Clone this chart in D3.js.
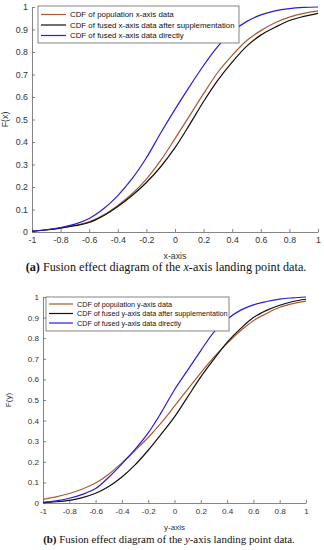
<!DOCTYPE html>
<html>
<head>
<meta charset="utf-8">
<script src="https://cdn.jsdelivr.net/npm/d3@7"></script>
<style>
  body { margin: 0; background: #fff; }
  svg { display: block; }
  .tick text { font-family: "Liberation Sans", Arial, sans-serif; fill: #333; }
</style>
</head>
<body>
<svg id="chart" width="324" height="550"></svg>
<script>
// x grid shared by every curve
const xs = d3.range(-1, 1.0001, 0.1).map(d => +d.toFixed(1));

// panel (a): x-axis landing point
const popX      = [0.004, 0.01, 0.018, 0.03, 0.045, 0.075, 0.118, 0.17, 0.235, 0.318, 0.415, 0.515, 0.615, 0.71, 0.785, 0.85, 0.895, 0.93, 0.955, 0.972, 0.983];
const suppX     = [0.003, 0.009, 0.017, 0.028, 0.042, 0.072, 0.113, 0.162, 0.22, 0.29, 0.375, 0.475, 0.58, 0.675, 0.755, 0.825, 0.875, 0.91, 0.94, 0.958, 0.972];
const directX   = [0.004, 0.01, 0.02, 0.035, 0.06, 0.103, 0.162, 0.237, 0.33, 0.44, 0.545, 0.645, 0.74, 0.825, 0.89, 0.935, 0.965, 0.983, 0.993, 0.998, 1.0];

// panel (b): y-axis landing point
const popY      = [0.018, 0.03, 0.046, 0.068, 0.097, 0.14, 0.195, 0.255, 0.318, 0.39, 0.47, 0.552, 0.632, 0.708, 0.775, 0.835, 0.885, 0.92, 0.95, 0.968, 0.98];
const suppY     = [0.002, 0.006, 0.013, 0.026, 0.047, 0.08, 0.126, 0.185, 0.256, 0.335, 0.418, 0.515, 0.612, 0.698, 0.78, 0.845, 0.9, 0.935, 0.96, 0.978, 0.989];
const directY   = [0.003, 0.01, 0.023, 0.042, 0.07, 0.125, 0.19, 0.26, 0.34, 0.44, 0.55, 0.645, 0.74, 0.83, 0.892, 0.935, 0.962, 0.978, 0.99, 0.996, 1.0];

const xTicks = [-1, -0.8, -0.6, -0.4, -0.2, 0, 0.2, 0.4, 0.6, 0.8, 1];
const yTicks = [0, 0.1, 0.2, 0.3, 0.4, 0.5, 0.6, 0.7, 0.8, 0.9, 1];

const colors = ["#a95a30", "#111111", "#2a1cd4"];

const svg = d3.select("#chart");

// shrink/grow a text node's font so it spans the wanted width
function fitWidth(sel, w) {
  const fs = parseFloat(sel.attr("font-size"));
  const len = sel.node().getComputedTextLength();
  sel.attr("font-size", (fs * w / len).toFixed(2));
}

function drawPanel(cfg) {
  const x = d3.scaleLinear().domain([-1, 1]).range([cfg.left, cfg.right]);
  const y = d3.scaleLinear().domain([0, 1]).range([cfg.bottom, cfg.top]);
  const g = svg.append("g");

  // axes, ticks pointing inward, no box
  const ax = g.append("g").attr("transform", `translate(0,${cfg.bottom})`)
    .call(d3.axisBottom(x).tickValues(xTicks).tickSizeInner(-3).tickSizeOuter(0)
      .tickFormat(d => String(d)));
  const ay = g.append("g").attr("transform", `translate(${cfg.left},0)`)
    .call(d3.axisLeft(y).tickValues(yTicks).tickSizeInner(-3).tickSizeOuter(0)
      .tickFormat(d => String(d)));
  [ax, ay].forEach(a => {
    a.select(".domain").attr("stroke", "#666").attr("stroke-width", 0.8);
    a.selectAll(".tick line").attr("stroke", "#666").attr("stroke-width", 0.8);
    a.selectAll(".tick text").attr("font-size", cfg.tickFont);
  });
  ax.selectAll(".tick text").attr("y", 5);
  ay.selectAll(".tick text").attr("x", -4);

  // curves
  const line = d3.line().x((d, i) => x(xs[i])).y(d => y(d)).curve(d3.curveCatmullRom.alpha(0.5));
  cfg.series.forEach((s, i) => {
    g.append("path").datum(s).attr("d", line)
      .attr("fill", "none").attr("stroke", colors[i]).attr("stroke-width", 1.2);
  });

  // axis titles
  g.append("text").attr("x", (cfg.left + cfg.right) / 2).attr("y", cfg.xTitleY)
    .attr("text-anchor", "middle").attr("font-family", "Liberation Sans, Arial, sans-serif")
    .attr("font-size", cfg.tickFont).attr("fill", "#333").text(cfg.xTitle);
  g.append("text").attr("transform", `translate(${cfg.yTitleX},${(cfg.top + cfg.bottom) / 2}) rotate(-90)`)
    .attr("text-anchor", "middle").attr("font-family", "Liberation Sans, Arial, sans-serif")
    .attr("font-size", cfg.tickFont).attr("fill", "#333").text(cfg.yTitle);

  // legend
  const L = cfg.legend;
  g.append("rect").attr("x", L.x).attr("y", L.y).attr("width", L.w).attr("height", L.h)
    .attr("fill", "#fff").attr("stroke", "#666").attr("stroke-width", 0.8);
  let first;
  cfg.labels.forEach((lab, i) => {
    const ry = L.rows[i];
    g.append("line").attr("x1", L.x + 3).attr("x2", L.x + 3 + L.lineLen)
      .attr("y1", ry).attr("y2", ry).attr("stroke", colors[i]).attr("stroke-width", 1.2);
    const t = g.append("text").attr("class", "leg").attr("x", L.x + L.lineLen + 7).attr("y", ry).attr("dy", "0.35em")
      .attr("font-family", "Liberation Sans, Arial, sans-serif").attr("font-size", 8)
      .attr("fill", "#111").text(lab);
    if (i === 0) first = t;
  });
  fitWidth(first, L.firstWidth);
  g.selectAll("text.leg").attr("font-size", first.attr("font-size"));

  // caption
  const cap = svg.append("text").attr("x", cfg.capX).attr("y", cfg.capY)
    .attr("text-anchor", "middle").attr("font-family", "Liberation Serif, Times New Roman, serif")
    .attr("font-size", 11).attr("fill", "#111");
  cap.append("tspan").attr("font-weight", "bold").text(cfg.capTag);
  cap.append("tspan").text(" Fusion effect diagram of the ");
  cap.append("tspan").attr("font-style", "italic").text(cfg.capVar);
  cap.append("tspan").text("-axis landing point data.");
  fitWidth(cap, cfg.capWidth);
}

drawPanel({
  left: 32, right: 318, top: 7, bottom: 232,
  tickFont: 8.8, xTitle: "x-axis", xTitleY: 259, yTitle: "F(x)", yTitleX: 8,
  series: [popX, suppX, directX],
  labels: ["CDF of population x-axis data", "CDF of fused x-axis data after supplementation", "CDF of fused x-axis data directly"],
  legend: { x: 38, y: 6, w: 201, h: 37, lineLen: 25, rows: [14.5, 25, 35.5], firstWidth: 104 },
  capX: 166, capY: 271, capWidth: 281, capTag: "(a)", capVar: "x"
});

drawPanel({
  left: 43, right: 306, top: 297, bottom: 503,
  tickFont: 8.1, xTitle: "y-axis", xTitleY: 530, yTitle: "F(y)", yTitleX: 11,
  series: [popY, suppY, directY],
  labels: ["CDF of population y-axis data", "CDF of fused y-axis data after supplementation", "CDF of fused y-axis data directly"],
  legend: { x: 46, y: 297, w: 183, h: 34, lineLen: 24, rows: [304, 313.5, 323], firstWidth: 95 },
  capX: 169, capY: 543, capWidth: 252, capTag: "(b)", capVar: "y"
});
</script>
</body>
</html>
